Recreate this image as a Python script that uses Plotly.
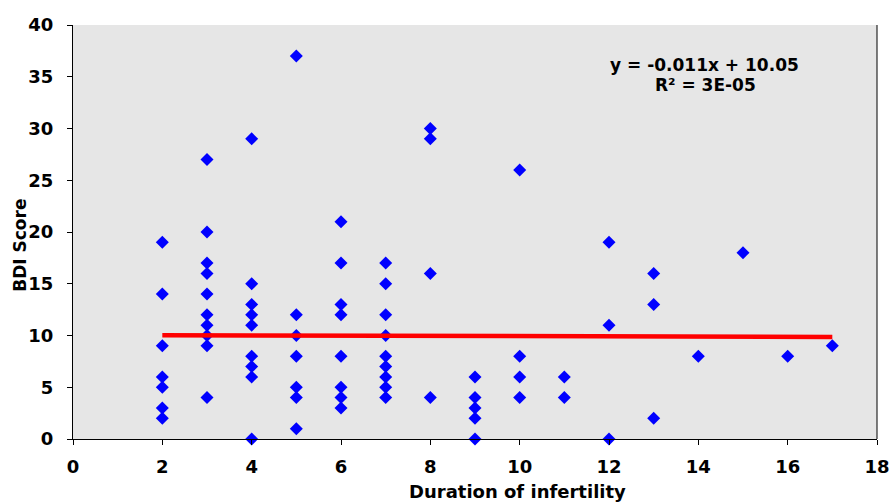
import plotly.graph_objects as go

# Data
duration = [2, 2, 2, 2, 2, 2, 2,
            3, 3, 3, 3, 3, 3, 3, 3, 3, 3,
            4, 4, 4, 4, 4, 4, 4, 4, 4,
            5, 5, 5, 5, 5, 5, 5,
            6, 6, 6, 6, 6, 6, 6, 6,
            7, 7, 7, 7, 7, 7, 7, 7, 7,
            8, 8, 8, 8,
            9, 9, 9, 9, 9,
            10, 10, 10, 10,
            11, 11,
            12, 12, 12,
            13, 13, 13,
            14, 15, 16, 17]
bdi_score = [19, 14, 9, 6, 5, 3, 2,
             27, 20, 17, 16, 14, 12, 11, 10, 9, 4,
             29, 15, 13, 12, 11, 8, 7, 6, 0,
             37, 12, 10, 8, 5, 4, 1,
             21, 17, 13, 12, 8, 5, 4, 3,
             17, 15, 12, 10, 8, 7, 6, 5, 4,
             30, 29, 16, 4,
             6, 4, 3, 2, 0,
             26, 8, 6, 4,
             6, 4,
             19, 11, 0,
             16, 13, 2,
             8, 18, 8, 9]

slope = -0.011
intercept = 10.05
r_squared_label = "3E-05"
trend_x = [min(duration), max(duration)]
trend_y = [slope * v + intercept for v in trend_x]

x_ticks = [0, 2, 4, 6, 8, 10, 12, 14, 16, 18]
y_ticks = [0, 5, 10, 15, 20, 25, 30, 35, 40]

FONT = "DejaVu Sans, Arial, sans-serif"

fig = go.Figure()
fig.add_trace(go.Scatter(
    x=duration, y=bdi_score, mode="markers",
    marker=dict(symbol="diamond", size=10, color="#0000ff", line=dict(width=0)),
    showlegend=False, cliponaxis=False))
fig.add_trace(go.Scatter(
    x=trend_x, y=trend_y, mode="lines",
    line=dict(color="#ff0000", width=4.5), showlegend=False))

axis_common = dict(
    showgrid=False, zeroline=False, showline=True, linecolor="black", linewidth=1,
    ticks="outside", ticklen=5, tickcolor="black", automargin=False,
    tickfont=dict(family=FONT, size=18, color="black", weight="bold"))

fig.update_xaxes(range=[0, 18], tickvals=x_ticks, ticklabelstandoff=6, **axis_common)
fig.update_yaxes(range=[0, 40], tickvals=y_ticks, ticklabelstandoff=10, **axis_common)

fig.add_shape(type="line", xref="paper", yref="paper", x0=1, x1=1, y0=0, y1=1,
              line=dict(color="black", width=1))

fig.add_annotation(text=f"y = {slope}x + {intercept}", xref="paper", yref="paper",
                   x=0.785, y=0.903, showarrow=False, xanchor="center", yanchor="middle",
                   font=dict(family=FONT, size=17, color="black", weight="bold"))
fig.add_annotation(text=f"R² = {r_squared_label}", xref="paper", yref="paper",
                   x=0.787, y=0.855, showarrow=False, xanchor="center", yanchor="middle",
                   font=dict(family=FONT, size=17, color="black", weight="bold"))
fig.add_annotation(text="Duration of infertility", xref="paper", yref="paper",
                   x=0.553, y=-0.128, showarrow=False, xanchor="center", yanchor="middle",
                   font=dict(family=FONT, size=18, color="black", weight="bold"))
fig.add_annotation(text="BDI Score", xref="paper", yref="paper",
                   x=-0.066, y=0.469, showarrow=False, textangle=-90,
                   xanchor="center", yanchor="middle",
                   font=dict(family=FONT, size=17, color="black", weight="bold"))

fig.update_layout(
    width=893, height=502,
    margin=dict(l=73, r=16, t=25, b=63, autoexpand=False),
    paper_bgcolor="white", plot_bgcolor="#e6e6e6",
)

# remove the default page margin so the figure fills the window exactly
fig.write_html("out.html", config={"displayModeBar": False},
               post_script="document.body.style.margin='0';document.body.style.overflow='hidden';")
